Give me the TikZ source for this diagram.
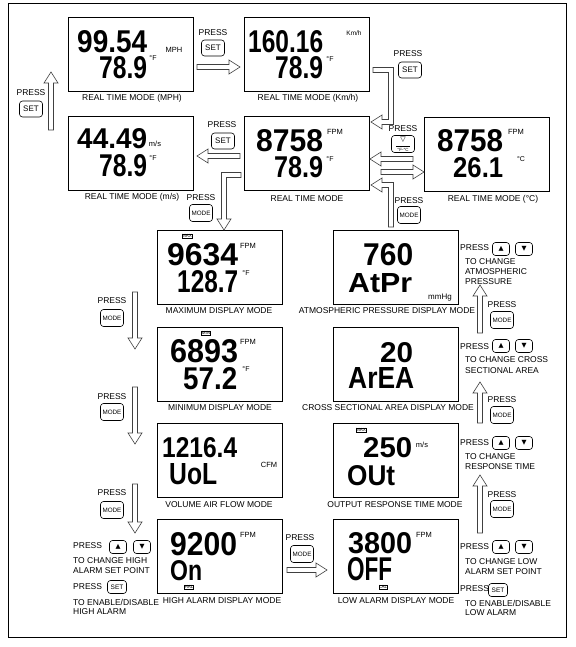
\documentclass[tikz,border=0pt]{standalone}
\usepackage{fontspec}
\setmainfont{Liberation Sans}
\newfontfamily\symfont{DejaVu Sans}
\usepackage{graphicx}
\def\sw{2.5}
\def\hw{7}
\def\hl{11}
\def\harr(#1:#2:#3){\pgfmathsetmacro\hb{ifthenelse(#2>#1,#2-\hl,#2+\hl)}\draw[blockarr] (#1,#3-\sw) -- (\hb,#3-\sw) -- (\hb,#3-\hw) -- (#2,#3) -- (\hb,#3+\hw) -- (\hb,#3+\sw) -- (#1,#3+\sw) -- cycle;}
\def\varr(#1:#2:#3){\pgfmathsetmacro\vb{ifthenelse(#3>#2,#3-\hl,#3+\hl)}\draw[blockarr] (#1-\sw,#2) -- (#1-\sw,\vb) -- (#1-\hw,\vb) -- (#1,#3) -- (#1+\hw,\vb) -- (#1+\sw,\vb) -- (#1+\sw,#2) -- cycle;}
\def\lcdline#1(#2,#3)(#4,#5)#6{\pgfmathsetmacro\lcdw{#4-#2}\pgfmathsetmacro\lcdh{#5-#3}\node[lcdnum] (#1) at (#2,#3) {\resizebox{\lcdw pt}{\lcdh pt}{#6}};}
\tikzset{
  lcdbox/.style={draw, line width=0.8pt, minimum width=125pt, minimum height=74pt, inner sep=0pt},
  lcdnum/.style={anchor=north west, inner sep=0pt, font=\bfseries\fontsize{30}{30}\selectfont},
  unit/.style={inner sep=0pt, font=\fontsize{7.5}{8}\selectfont},
  deg/.style={inner sep=0pt, font=\fontsize{7}{7}\selectfont},
  tag/.style={draw, line width=0.4pt, inner sep=0.3pt, font=\fontsize{4.5}{4.5}\selectfont},
  modelabel/.style={inner sep=0pt, font=\fontsize{8.5}{10}\selectfont},
  press/.style={inner sep=0pt, font=\fontsize{8.5}{10}\selectfont},
  note/.style={press, anchor=west},
  key/.style={draw, rounded corners=3pt, line width=0.6pt, inner sep=0pt, minimum width=23pt, minimum height=16pt, font=\fontsize{8}{9}\selectfont},
  modekey/.style={key, minimum height=17pt, font=\fontsize{6.3}{7}\selectfont},
  smallkey/.style={key, minimum width=19pt, minimum height=13pt, font=\fontsize{6.5}{7}\selectfont},
  arrowkey/.style={key, minimum width=17pt, minimum height=13pt, font=\symfont\fontsize{6.5}{7}\selectfont},
  blockarr/.style={draw=black!75, line width=0.6pt, fill=white},
}
\begin{document}
\begin{tikzpicture}[x=1pt,y=-1pt]
%%%%% START %%%%%
\useasboundingbox (0,0) rectangle (575,647);
\draw[line width=0.8pt] (8,3) rectangle (566,637);

% displays
\node[lcdbox] (rtmph) at (130.5,54) {};
\node[lcdbox] (rtkmh) at (307,54.5) {};
\node[lcdbox] (rtms) at (130.5,153.5) {};
\node[lcdbox] (rtfpm) at (306.5,153.5) {};
\node[lcdbox] (rtdegc) at (486.5,154) {};
\node[lcdbox] (maxmode) at (220,267.5) {};
\node[lcdbox] (minmode) at (220,364) {};
\node[lcdbox] (volmode) at (220,460) {};
\node[lcdbox] (halmode) at (220,556) {};
\node[lcdbox] (atpmode) at (395.5,267.5) {};
\node[lcdbox] (areamode) at (395.5,364) {};
\node[lcdbox] (outmode) at (395.5,460) {};
\node[lcdbox] (lalmode) at (395.5,556) {};

\lcdline{mphA}(77,30)(147,52){99.54}
\lcdline{mphB}(99,56)(147,78){78.9}
\lcdline{kmhA}(248,30)(323,52){160.16}
\lcdline{kmhB}(275,56)(323,78){78.9}
\lcdline{msA}(77,128)(147,148){44.49}
\lcdline{msB}(99,154)(147,176){78.9}
\lcdline{fpmA}(256,129)(323,151){8758}
\lcdline{fpmB}(274,156)(323,177){78.9}
\lcdline{degcA}(437,129)(503,151){8758}
\lcdline{degcB}(453,157)(503,177){26.1}
\lcdline{maxA}(167,243)(238,265){9634}
\lcdline{maxB}(177,270)(238,292){128.7}
\lcdline{minA}(170,339)(238,362){6893}
\lcdline{minB}(183,367)(237,389){57.2}
\lcdline{volA}(162,437)(237,457){1216.4}
\lcdline{volB}(169,463)(217,484){UoL}
\lcdline{halA}(170,532)(237,555){9200}
\lcdline{halB}(170,560)(202,580){On}
\lcdline{atpA}(363,243)(413,265){760}
\lcdline{atpB}(348,273)(412,292){AtPr}
\lcdline{areaA}(380,342)(413,362){20}
\lcdline{areaB}(348,367)(414,388){ArEA}
\lcdline{outA}(363,437)(412,457){250}
\lcdline{outB}(347,465)(395,485){OUt}
\lcdline{lalA}(348,532)(412,553){3800}
\lcdline{lalB}(347,557)(392,580){OFF}

\node[unit] (umph) at (174,50) {MPH};
\node[deg] (dmph) at (153,58) {°F};
\node[unit, font=\fontsize{6.5}{7}\selectfont] (ukmh) at (354,33) {Km/h};
\node[deg] (dkmh) at (330,59) {°F};
\node[unit] (ums) at (155,144) {m/s};
\node[deg] (dms) at (153,158) {°F};
\node[unit] (ufpm) at (335,132) {FPM};
\node[deg] (dfpm) at (330,159) {°F};
\node[unit] (udegc) at (516,132) {FPM};
\node[deg] (ddegc) at (521,159) {°C};
\node[unit] (umax) at (248,246) {FPM};
\node[deg] (dmax) at (246,273) {°F};
\node[unit] (umin) at (248,342) {FPM};
\node[deg] (dmin) at (246,369) {°F};
\node[unit] (uvol) at (269,465) {CFM};
\node[unit] (uhal) at (248,535) {FPM};
\node[unit, font=\fontsize{8}{8}\selectfont] (uatp) at (440,298) {mmHg};
\node[unit] (uout) at (422,445) {m/s};
\node[unit] (ulal) at (424,535) {FPM};

\node[tag] (tmax) at (187,236) {MAX};
\node[tag] (tmin) at (206,333) {MIN};
\node[tag] (thal) at (189,587) {HAL};
\node[tag] (tout) at (361,430) {MAX};
\node[tag] (tlal) at (383,587) {LAL};

\node[modelabel] (lmph) at (132,98) {REAL TIME MODE (MPH)};
\node[modelabel] (lkmh) at (308,98) {REAL TIME MODE (Km/h)};
\node[modelabel] (lms) at (132,197) {REAL TIME MODE (m/s)};
\node[modelabel] (lfpm) at (307,199) {REAL TIME MODE};
\node[modelabel] (ldegc) at (493,199) {REAL TIME MODE (°C)};
\node[modelabel] (lmax) at (219,311) {MAXIMUM DISPLAY MODE};
\node[modelabel] (lmin) at (220,408) {MINIMUM DISPLAY MODE};
\node[modelabel] (lvol) at (219,505) {VOLUME AIR FLOW MODE};
\node[modelabel] (lhal) at (222,601) {HIGH ALARM DISPLAY MODE};
\node[modelabel] (latp) at (387,311) {ATMOSPHERIC PRESSURE DISPLAY MODE};
\node[modelabel] (larea) at (388,408) {CROSS SECTIONAL AREA DISPLAY MODE};
\node[modelabel] (lout) at (395,505) {OUTPUT RESPONSE TIME MODE};
\node[modelabel] (llal) at (396,601) {LOW ALARM DISPLAY MODE};

% arrows
\harr(197:240:67)
\varr(51:130:72)
\harr(240:197:156)
\harr(413:370:159)
\harr(381:424:172)
\varr(135:292:349)
\varr(135:387:444)
\varr(135:484:533)
\harr(287:327:570)
\varr(480:533:475)
\varr(480:423:382)
\varr(480:333:285)
\draw[blockarr] (373,67.5) -- (393.5,67.5) -- (393.5,124.5) -- (382,124.5) -- (382,129) -- (371,122) -- (382,115) -- (382,119.5) -- (388.5,119.5) -- (388.5,72.5) -- (373,72.5) -- cycle;
\draw[blockarr] (241,172.5) -- (221.5,172.5) -- (221.5,219) -- (217,219) -- (224,230) -- (231,219) -- (226.5,219) -- (226.5,177.5) -- (241,177.5) -- cycle;
\draw[blockarr] (388.5,227) -- (388.5,187.5) -- (382,187.5) -- (382,192) -- (371,185) -- (382,178) -- (382,182.5) -- (393.5,182.5) -- (393.5,227) -- cycle;

% keys
\node[press] (pmph) at (213,33) {PRESS};
\node[key] (kmph) at (213,48) {SET};
\node[press] (pkmh) at (408,54) {PRESS};
\node[key] (kkmh) at (410,70) {SET};
\node[press] (pms) at (222,125) {PRESS};
\node[key] (kms) at (223,141) {SET};
\node[press] (pup) at (31,93) {PRESS};
\node[key] (kup) at (31,109) {SET};
\node[press] (pdeg) at (403,129) {PRESS};
\node[key, minimum height=17pt] (kdeg) at (403,144) {};
\node[inner sep=0pt, font=\symfont\fontsize{7}{7}\selectfont] (kdegtri) at (403,140) {▽};
\draw[line width=0.4pt] (396,146) -- (410,146);
\node[inner sep=0pt, font=\fontsize{4.5}{5}\selectfont] (kdegtxt) at (403,149.5) {°F-°C};
\node[press] (patp) at (409,201) {PRESS};
\node[modekey] (katp) at (409,215) {MODE};
\node[press] (pmax) at (201,198) {PRESS};
\node[modekey] (kmax) at (201,213) {MODE};

\node[press] (pmin) at (112,301) {PRESS};
\node[modekey] (kmin) at (112,318) {MODE};
\node[press] (pvol) at (112,397) {PRESS};
\node[modekey] (kvol) at (112,412) {MODE};
\node[press] (phal) at (112,493) {PRESS};
\node[modekey] (khal) at (112,510) {MODE};
\node[press] (plal) at (300,538) {PRESS};
\node[modekey] (klal) at (302,554) {MODE};

\node[press] (pout) at (502,495) {PRESS};
\node[modekey] (kout) at (502,509) {MODE};
\node[press] (parea) at (502,400) {PRESS};
\node[modekey] (karea) at (502,415) {MODE};
\node[press] (patm) at (502,305) {PRESS};
\node[modekey] (katm) at (502,320) {MODE};

% notes
\node[note] (hn1) at (73,546) {PRESS};
\node[arrowkey] (hup) at (118,547) {▲};
\node[arrowkey] (hdn) at (142,547) {▼};
\node[note] (hn2) at (73,561) {TO CHANGE HIGH};
\node[note] (hn3) at (73,571) {ALARM SET POINT};
\node[note] (hn4) at (73,587) {PRESS};
\node[smallkey] (hset) at (117,587) {SET};
\node[note] (hn5) at (73,602) {TO ENABLE/DISABLE};
\node[note] (hn6) at (73,612) {HIGH ALARM};

\node[note] (an1) at (460,248) {PRESS};
\node[arrowkey] (aup) at (501,249) {▲};
\node[arrowkey] (adn) at (524,249) {▼};
\node[note] (an2) at (465,262) {TO CHANGE};
\node[note] (an3) at (465,272) {ATMOSPHERIC};
\node[note] (an4) at (465,282) {PRESSURE};

\node[note] (cn1) at (460,347) {PRESS};
\node[arrowkey] (cup) at (501,346) {▲};
\node[arrowkey] (cdn) at (524,346) {▼};
\node[note] (cn2) at (465,360) {TO CHANGE CROSS};
\node[note] (cn3) at (465,371) {SECTIONAL AREA};

\node[note] (on1) at (460,443) {PRESS};
\node[arrowkey] (oup) at (501,443) {▲};
\node[arrowkey] (odn) at (524,443) {▼};
\node[note] (on2) at (465,457) {TO CHANGE};
\node[note] (on3) at (465,467) {RESPONSE TIME};

\node[note] (ln1) at (460,547) {PRESS};
\node[arrowkey] (lup) at (501,547) {▲};
\node[arrowkey] (ldn) at (524,547) {▼};
\node[note] (ln2) at (465,562) {TO CHANGE LOW};
\node[note] (ln3) at (465,572) {ALARM SET POINT};
\node[note] (ln4) at (460,589) {PRESS};
\node[smallkey] (lset) at (498,590) {SET};
\node[note] (ln5) at (465,603) {TO ENABLE/DISABLE};
\node[note] (ln6) at (465,613) {LOW ALARM};
%%%%% END %%%%%
\end{tikzpicture}
\end{document}
